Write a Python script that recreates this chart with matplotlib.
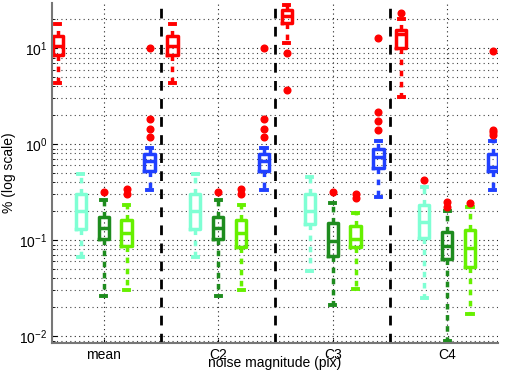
import numpy as np
import matplotlib
matplotlib.use("Agg")
from matplotlib import pyplot as plt

plt.rcParams['font.family'] = ['Liberation Sans', 'DejaVu Sans']

groups = ['mean', 'C2', 'C3', 'C4']
colores = ['#ff0000', '#7fffd4', '#1e8c1e', '#66f000', '#2040ff']

# valores: [mean, C2, C3, C4] para cada serie
# rojo
rojo_lo  = [4.3, 4.3, 11.2, 3.1]
rojo_q1  = [8.4, 8.4, 18.2, 10.1]
rojo_med = [10.6, 10.6, 21.9, 14.0]
rojo_q3  = [13.4, 13.4, 25.0, 15.5]
rojo_hi  = [17.8, 17.8, 28.0, 20.0]
rojo_out = [[], [], [8.9, 3.7], [23.2]]
# cian
cian_lo  = [0.067, 0.067, 0.048, 0.025]
cian_q1  = [0.131, 0.130, 0.147, 0.106]
cian_med = [0.20, 0.20, 0.20, 0.154]
cian_q3  = [0.30, 0.30, 0.30, 0.23]
cian_hi  = [0.49, 0.49, 0.45, 0.36]
cian_out = [[], [], [], [0.42]]
# verde oscuro
vo_lo  = [0.026, 0.026, 0.021, 0.0088]
vo_q1  = [0.103, 0.102, 0.069, 0.063]
vo_med = [0.135, 0.133, 0.098, 0.087]
vo_q3  = [0.176, 0.176, 0.150, 0.121]
vo_hi  = [0.26, 0.26, 0.243, 0.199]
vo_out = [[0.32], [0.32], [0.32], [0.25, 0.224]]
# verde claro
vc_lo  = [0.030, 0.030, 0.031, 0.017]
vc_q1  = [0.086, 0.085, 0.085, 0.053]
vc_med = [0.120, 0.120, 0.103, 0.083]
vc_q3  = [0.163, 0.163, 0.139, 0.128]
vc_hi  = [0.23, 0.23, 0.194, 0.22]
vc_out = [[0.34, 0.30], [0.34, 0.30], [0.30, 0.274], [0.246]]
# azul
az_lo  = [0.33, 0.33, 0.28, 0.33]
az_q1  = [0.53, 0.53, 0.56, 0.53]
az_med = [0.67, 0.67, 0.73, 0.585]
az_q3  = [0.79, 0.79, 0.89, 0.79]
az_hi  = [0.92, 0.92, 1.07, 1.07]
az_out = [[10.0, 1.84, 1.44, 1.19], [10.0, 1.84, 1.44, 1.19],
          [12.9, 2.15, 1.74, 1.41], [9.4, 1.41, 1.33, 1.25]]

series = [
    (rojo_lo, rojo_q1, rojo_med, rojo_q3, rojo_hi, rojo_out),
    (cian_lo, cian_q1, cian_med, cian_q3, cian_hi, cian_out),
    (vo_lo, vo_q1, vo_med, vo_q3, vo_hi, vo_out),
    (vc_lo, vc_q1, vc_med, vc_q3, vc_hi, vc_out),
    (az_lo, az_q1, az_med, az_q3, az_hi, az_out),
]

fig = plt.figure(figsize=(5.05, 3.73), dpi=100)
ax = fig.add_axes([0.103, 0.080, 0.883, 0.912])
ax.set_yscale('log')

for j, (lo, q1, med, q3, hi, out) in enumerate(series):
    c = colores[j]
    stats = []
    pos = []
    for g in range(len(groups)):
        stats.append(dict(whislo=lo[g], q1=q1[g], med=med[g], q3=q3[g],
                          whishi=hi[g], fliers=out[g]))
        pos.append(g * 5 + j + 1)
    ax.bxp(stats, positions=pos, widths=0.45, showfliers=True,
           boxprops=dict(color=c, linewidth=2.5),
           medianprops=dict(color=c, linewidth=2.5),
           whiskerprops=dict(color=c, linewidth=2.5, linestyle=(0, (1.6, 1.6))),
           capprops=dict(color=c, linewidth=2.8),
           capwidths=0.22,
           flierprops=dict(marker='o', markerfacecolor='#ff0000',
                           markeredgecolor='#ff0000', markersize=4.8))

for xv in [5.5, 10.5, 15.5]:
    ax.axvline(xv, color='k', linewidth=2, linestyle=(0, (3.5, 3)))

ax.set_xlim(0.74, 20.22)
ax.set_ylim(0.00845, 29.6)
ax.set_xticks([3, 8, 13, 18])
ax.set_xticklabels(groups, fontsize=10)
ax.set_yticks([0.01, 0.1, 1, 10])
ax.tick_params(axis='y', which='both', direction='in', labelsize=10)
ax.tick_params(axis='x', direction='in', length=3)
ax.grid(True, which='major', axis='both', linestyle=(0, (1, 3)), color='#222222', linewidth=0.8)
ax.grid(True, which='minor', axis='y', linestyle=(0, (1, 3)), color='#444444', linewidth=0.8)
for s in ['top', 'right']:
    ax.spines[s].set_visible(False)
for s in ['left', 'bottom']:
    ax.spines[s].set_color('#777777')
    ax.spines[s].set_linewidth(1.5)

ax.set_xlabel('noise magnitude (pix)', fontsize=10, labelpad=-4)
ax.set_ylabel('% (log scale)', fontsize=10, labelpad=2)

plt.savefig('out.png', dpi=100)
